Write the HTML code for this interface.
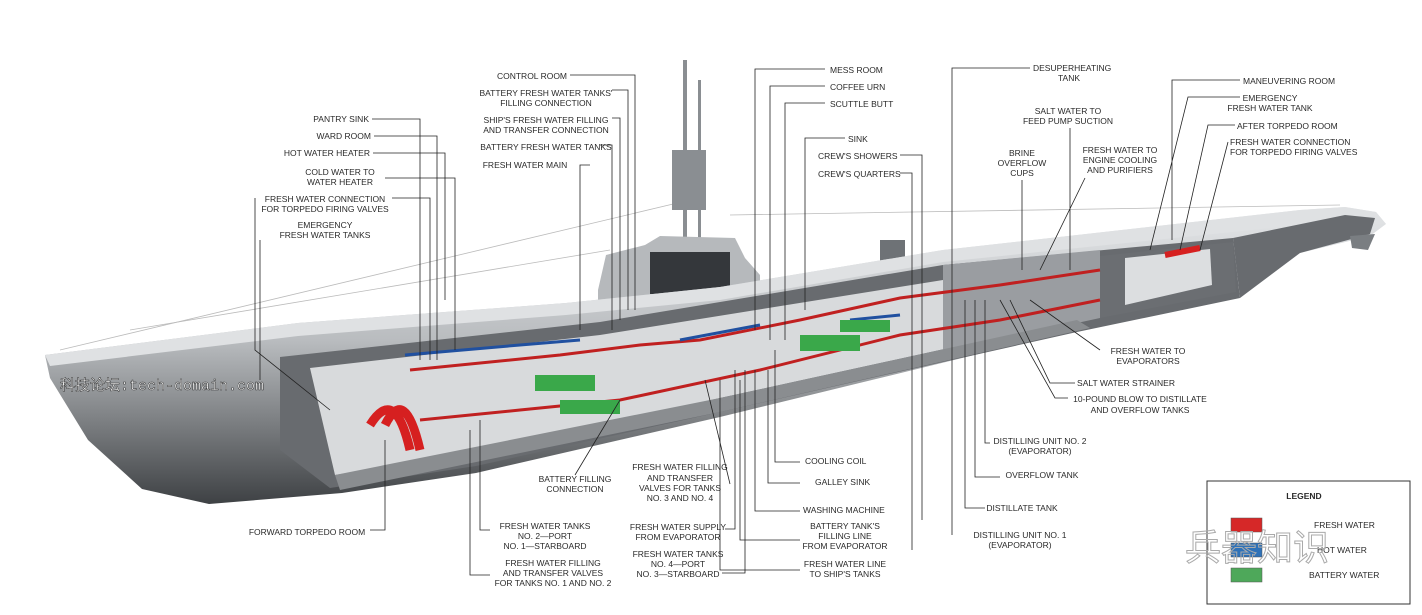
<!DOCTYPE html>
<html><head><meta charset="utf-8"><style>
html,body{margin:0;padding:0;background:#fff;}
svg{display:block}
text{font-family:"Liberation Sans",sans-serif;font-size:8.5px;fill:#2a2a2a;}
.c{text-anchor:middle}.r{text-anchor:end}
</style></head><body>
<svg width="1422" height="615" viewBox="0 0 1422 615">
<defs>
<linearGradient id="bow" x1="0" y1="0" x2="0" y2="1">
<stop offset="0" stop-color="#e4e6e8"/><stop offset="0.45" stop-color="#b9bcbf"/><stop offset="1" stop-color="#3e4144"/>
</linearGradient>
</defs>
<rect width="1422" height="615" fill="#fff"/>
<g stroke="#bbb" stroke-width="0.8" fill="none">
<line x1="60" y1="350" x2="690" y2="200"/><line x1="130" y1="330" x2="610" y2="250"/>
<line x1="730" y1="215" x2="1340" y2="205"/>
</g>
<g fill="#8a8e92"><rect x="683" y="60" width="4" height="190"/><rect x="698" y="80" width="3" height="170"/><rect x="672" y="150" width="34" height="60"/></g>
<path d="M598 290 L606 255 L645 245 L660 236 L735 238 L745 258 L760 275 L760 300 L598 300Z" fill="#b6b9bc"/>
<rect x="650" y="252" width="80" height="42" fill="#34373b"/>
<rect x="880" y="240" width="25" height="25" fill="#6e7276"/>
<path d="M45 355 L298 323 L566 303 L720 287 L943 250 L1300 210 L1345 207 L1376 212 L1386 224 L1370 236 L1300 253 L1166 300 L1077 330 L720 417 L476 473 L342 493 L209 504 L142 489 L88 440 L50 378Z" fill="url(#bow)"/>
<path d="M45 355 L298 323 L566 303 L720 287 L943 250 L1300 210 L1345 207 L1376 212 L1386 224 L1300 225 L943 262 L720 300 L566 315 L298 336 L50 366Z" fill="#dfe1e3"/>
<path d="M280 357 L600 322 L943 265 L1233 238 L1240 298 L1077 332 L720 412 L476 466 L330 488 L280 450Z" fill="#686b6f"/>
<path d="M310 368 L600 335 L943 280 L1230 250 L1232 288 L1077 320 L720 398 L476 452 L335 475Z" fill="#d8dadc"/>
<path d="M943 265 L1100 250 L1100 318 L943 352Z" fill="#9a9da1"/>
<path d="M1100 256 L1233 242 L1236 292 L1100 318Z" fill="#6b6e72"/>
<path d="M1125 258 L1210 249 L1212 285 L1125 305Z" fill="#dcdee0"/>
<path d="M1233 238 L1345 215 L1375 218 L1370 234 L1300 253 L1240 298Z" fill="#686b6f"/>
<path d="M1350 236 L1375 234 L1368 250 L1352 248Z" fill="#7a7e82"/>
<path d="M335 475 L720 398 L1077 320 L1090 328 L720 412 L340 490Z" fill="#8a8d90"/>
<g fill="none" stroke-width="3">
<path d="M370 425 Q395 385 410 450 M385 425 Q405 385 420 450" stroke="#d62020" stroke-width="9"/>
<path d="M410 370 L560 355 L640 345 L700 340 L800 320 L900 298 L1000 285 L1100 270" stroke="#c02020"/>
<path d="M405 355 L520 345 L580 340 M680 340 L760 325 M850 320 L900 315" stroke="#2050a0"/>
<path d="M420 420 L520 410 L620 400 L760 370 L900 335 L1000 320 L1100 300" stroke="#c02020"/>
<path d="M1165 255 L1200 248" stroke="#d62020" stroke-width="6"/>
</g>
<g fill="#3aa84a"><rect x="535" y="375" width="60" height="16"/><rect x="560" y="400" width="60" height="14"/><rect x="800" y="335" width="60" height="16"/><rect x="840" y="320" width="50" height="12"/></g>
<g stroke="#222" stroke-width="0.8" fill="none">
<path d="M372 119 H420 V360 M374 136 H437 V360 M373 153 H445 V300 M385 178 H455 V350 M392 198 H430 V360"/>
<path d="M255 198 V350 L330 410 M260 240 V380"/>
<path d="M570 75 H635 V310 M612 90 H628 V310 M612 118 H620 V320 M600 145 H612 V330 M590 165 H580 V330"/>
<path d="M825 69 H755 V330 M825 86 H770 V340 M825 103 H785 V340 M845 138 H805 V310 M900 155 H922 V520 M900 173 H912 V550"/>
<path d="M1030 68 H952 V535 M1070 128 V270 M1022 180 V270 M1085 178 L1040 270"/>
<path d="M1240 80 H1172 V240 M1240 97 H1188 L1150 250 M1235 125 H1208 L1180 250 M1228 142 L1200 250"/>
<path d="M1100 350 L1030 300 M1075 383 H1050 L1010 300 M1068 398 H1055 L1000 300 M990 443 H985 V300 M1000 477 H975 V300 M985 508 H965 V300"/>
<path d="M800 462 H775 V350 M800 483 H768 V370 M800 511 H755 V370 M800 540 H740 V380 M800 570 H720 V380"/>
<path d="M730 484 L705 380 M725 529 H735 V370 M722 573 H745 V370"/>
<path d="M575 475 L620 400 M490 530 H480 V420 M490 575 H470 V430 M370 530 H385 V440"/>
</g>
<text class="r" x="369" y="122">PANTRY SINK</text>
<text class="r" x="371" y="139">WARD ROOM</text>
<text class="r" x="370" y="156">HOT WATER HEATER</text>
<text class="c" x="340" y="175">COLD WATER TO</text><text class="c" x="340" y="185">WATER HEATER</text>
<text class="c" x="325" y="202">FRESH WATER CONNECTION</text><text class="c" x="325" y="212">FOR TORPEDO FIRING VALVES</text>
<text class="c" x="325" y="228">EMERGENCY</text><text class="c" x="325" y="238">FRESH WATER TANKS</text>
<text class="c" x="532" y="79">CONTROL ROOM</text>
<text class="c" x="546" y="96">BATTERY FRESH WATER TANKS'</text><text class="c" x="546" y="106">FILLING CONNECTION</text>
<text class="c" x="546" y="123">SHIP'S FRESH WATER FILLING</text><text class="c" x="546" y="133">AND TRANSFER CONNECTION</text>
<text class="c" x="546" y="150">BATTERY FRESH WATER TANKS</text>
<text class="c" x="525" y="168">FRESH WATER MAIN</text>
<text x="830" y="73">MESS ROOM</text><text x="830" y="90">COFFEE URN</text><text x="830" y="107">SCUTTLE BUTT</text>
<text x="848" y="142">SINK</text><text x="818" y="159">CREW'S SHOWERS</text><text x="818" y="177">CREW'S QUARTERS</text>
<text x="1033" y="71">DESUPERHEATING</text><text x="1058" y="81">TANK</text>
<text class="c" x="1068" y="114">SALT WATER TO</text><text class="c" x="1068" y="124">FEED PUMP SUCTION</text>
<text class="c" x="1022" y="156">BRINE</text><text class="c" x="1022" y="166">OVERFLOW</text><text class="c" x="1022" y="176">CUPS</text>
<text class="c" x="1120" y="153">FRESH WATER TO</text><text class="c" x="1120" y="163">ENGINE COOLING</text><text class="c" x="1120" y="173">AND PURIFIERS</text>
<text x="1243" y="84">MANEUVERING ROOM</text>
<text class="c" x="1270" y="101">EMERGENCY</text><text class="c" x="1270" y="111">FRESH WATER TANK</text>
<text x="1237" y="129">AFTER TORPEDO ROOM</text>
<text x="1230" y="145">FRESH WATER CONNECTION</text><text x="1230" y="155">FOR TORPEDO FIRING VALVES</text>
<text class="c" x="1148" y="354">FRESH WATER TO</text><text class="c" x="1148" y="364">EVAPORATORS</text>
<text class="c" x="1126" y="386">SALT WATER STRAINER</text>
<text class="c" x="1140" y="402">10-POUND BLOW TO DISTILLATE</text><text class="c" x="1140" y="413">AND OVERFLOW TANKS</text>
<text class="c" x="1040" y="444">DISTILLING UNIT NO. 2</text><text class="c" x="1040" y="454">(EVAPORATOR)</text>
<text class="c" x="1042" y="478">OVERFLOW TANK</text>
<text class="c" x="1022" y="511">DISTILLATE TANK</text>
<text class="c" x="1020" y="538">DISTILLING UNIT NO. 1</text><text class="c" x="1020" y="548">(EVAPORATOR)</text>
<text x="805" y="464">COOLING COIL</text><text x="815" y="485">GALLEY SINK</text><text x="803" y="513">WASHING MACHINE</text>
<text class="c" x="845" y="529">BATTERY TANK'S</text><text class="c" x="845" y="539">FILLING LINE</text><text class="c" x="845" y="549">FROM EVAPORATOR</text>
<text class="c" x="845" y="567">FRESH WATER LINE</text><text class="c" x="845" y="577">TO SHIP'S TANKS</text>
<text class="c" x="680" y="470">FRESH WATER FILLING</text><text class="c" x="680" y="481">AND TRANSFER</text><text class="c" x="680" y="491">VALVES FOR TANKS</text><text class="c" x="680" y="501">NO. 3 AND NO. 4</text>
<text class="c" x="678" y="530">FRESH WATER SUPPLY</text><text class="c" x="678" y="540">FROM EVAPORATOR</text>
<text class="c" x="678" y="557">FRESH WATER TANKS</text><text class="c" x="678" y="567">NO. 4—PORT</text><text class="c" x="678" y="577">NO. 3—STARBOARD</text>
<text class="c" x="575" y="482">BATTERY FILLING</text><text class="c" x="575" y="492">CONNECTION</text>
<text class="c" x="545" y="529">FRESH WATER TANKS</text><text class="c" x="545" y="539">NO. 2—PORT</text><text class="c" x="545" y="549">NO. 1—STARBOARD</text>
<text class="c" x="553" y="566">FRESH WATER FILLING</text><text class="c" x="553" y="576">AND TRANSFER VALVES</text><text class="c" x="553" y="586">FOR TANKS NO. 1 AND NO. 2</text>
<text class="c" x="307" y="535">FORWARD TORPEDO ROOM</text>
<text x="60" y="390" style="font-family:'Liberation Mono','Noto Sans CJK SC',monospace;font-size:15px;fill:#fff;stroke:#333;stroke-width:0.5">科技论坛:tech-domain.com</text>
<rect x="1207" y="481" width="203" height="123" fill="#fff" stroke="#333" stroke-width="1"/>
<text class="c" x="1304" y="499" style="font-weight:bold">LEGEND</text>
<rect x="1231" y="518" width="31" height="14" fill="#d62828" stroke="#555" stroke-width="0.5"/>
<rect x="1231" y="543" width="31" height="14" fill="#2f72b8" stroke="#555" stroke-width="0.5"/>
<rect x="1231" y="568" width="31" height="14" fill="#4ea85a" stroke="#555" stroke-width="0.5"/>
<text x="1314" y="528">FRESH WATER</text><text x="1317" y="553">HOT WATER</text><text x="1309" y="578">BATTERY WATER</text>
<text x="1185" y="560" style="font-family:'Noto Sans CJK SC',sans-serif;font-size:36px;fill:none;stroke:#aaa;stroke-width:1">兵器知识</text>
</svg>
</body></html>
